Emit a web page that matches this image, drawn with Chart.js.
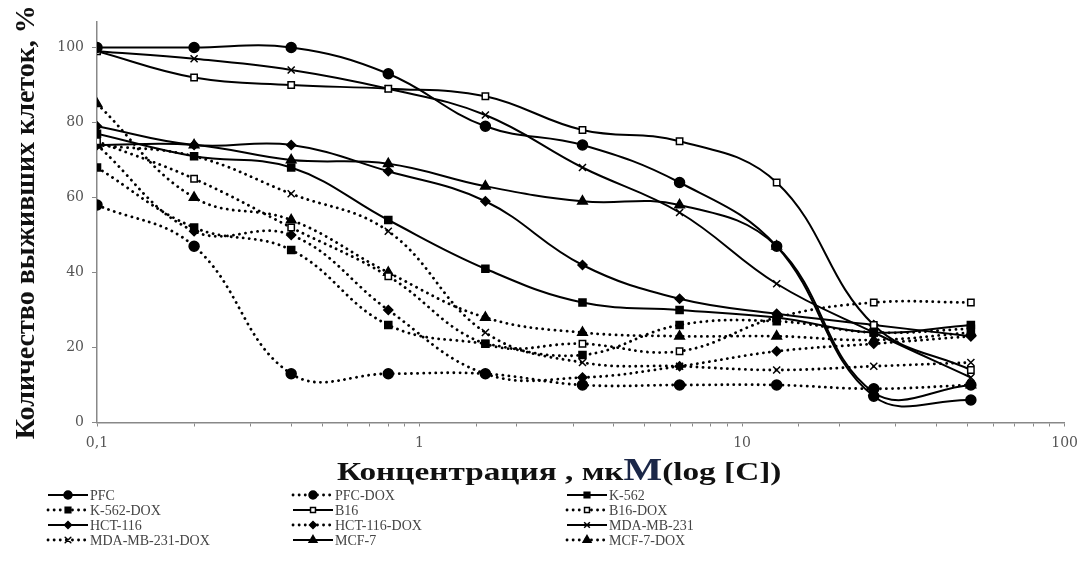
<!DOCTYPE html>
<html lang="ru">
<head>
<meta charset="UTF-8">
<title>Количество выживших клеток</title>
<script src="https://cdn.jsdelivr.net/npm/chart.js"></script>
<style>
  html, body { margin: 0; padding: 0; background: #fff; }
  #wrap { width: 1086px; height: 564px; position: relative; }
</style>
</head>
<body>
<div id="wrap"><canvas id="chart"></canvas></div>
<script>
// концентрации, мкМ (ось x, логарифм)
var concentrations = [0.1, 0.2, 0.4, 0.8, 1.6, 3.2, 6.4, 12.8, 25.6, 51.2];

var seriesNames = ['PFC', 'PFC-DOX', 'K-562', 'K-562-DOX', 'B16', 'B16-DOX',
                   'HCT-116', 'HCT-116-DOX', 'MDA-MB-231', 'MDA-MB-231-DOX', 'MCF-7', 'MCF-7-DOX'];

// % выживших клеток
var pfc       = [100, 100, 100, 93, 79, 74, 64, 47, 7, 6];
var pfcDox    = [58, 47, 13, 13, 13, 10, 10, 10, 9, 10];
var k562      = [77, 71, 68, 54, 41, 32, 30, 28, 24, 26];
var k562Dox   = [68, 52, 46, 26, 21, 18, 26, 27, 24, 25];
var b16       = [99, 92, 90, 89, 87, 78, 75, 64, 26, 14];
var b16Dox    = [75, 65, 52, 39, 21, 21, 19, 28, 32, 32];
var hct116    = [79, 74, 74, 67, 59, 42, 33, 29, 26, 23];
var hct116Dox = [74, 51, 50, 30, 13, 12, 15, 19, 21, 23];
var mda       = [99, 97, 94, 89, 82, 68, 56, 37, 24, 12];
var mdaDox    = [74, 71, 61, 51, 24, 16, 15, 14, 15, 16];
var mcf7      = [74, 74, 70, 69, 63, 59, 58, 47, 8, 10];
var mcf7Dox   = [85, 60, 54, 40, 28, 24, 23, 23, 22, 24];

var yTicks = [0, 20, 40, 60, 80, 100];
var xTickLabels = ['0,1', '1', '10', '100'];

var allValues = [pfc, pfcDox, k562, k562Dox, b16, b16Dox, hct116, hct116Dox, mda, mdaDox, mcf7, mcf7Dox];

// маркеры: стиль, радиус, заливка
var markers = [
    ['circle', 5, '#000'],
    ['circle', 5, '#000'],
    ['rect', 5, '#000'],
    ['rect', 5, '#000'],
    ['rect', 4.5, '#fff'],
    ['rect', 4.5, '#fff'],
    ['rectRot', 4.5, '#000'],
    ['rectRot', 4.5, '#000'],
    ['crossRot', 5, '#000'],
    ['crossRot', 5, '#000'],
    ['triangle', 5.5, '#000'],
    ['triangle', 5.5, '#000']
];

var datasets = seriesNames.map(function (name, i) {
    var dotted = name.indexOf('DOX') >= 0;
    return {
        label: name,
        data: concentrations.map(function (c, j) { return { x: c, y: allValues[i][j] }; }),
        borderColor: '#000',
        borderWidth: dotted ? 2.8 : 2,
        borderDash: dotted ? [0.1, 6] : [],
        borderCapStyle: dotted ? 'round' : 'butt',
        tension: 0.4,
        pointStyle: markers[i][0],
        pointRadius: markers[i][1],
        pointBackgroundColor: markers[i][2],
        pointBorderColor: '#000',
        pointBorderWidth: 1.5,
        fill: false
    };
});

// подпись оси x (растянутая, с крупной M)
var xTitlePlugin = {
    id: 'xTitle',
    afterDraw: function (chart) {
        var ctx = chart.ctx;
        var parts = [
            ['Концентрация , мк', 26, '#111'],
            ['M', 32, '#1b2748'],
            ['(log [C])', 26, '#111']
        ];
        ctx.save();
        ctx.translate(337, 480);
        ctx.scale(1.28, 1);
        ctx.textBaseline = 'alphabetic';
        var x = 0;
        parts.forEach(function (p) {
            ctx.font = 'bold ' + p[1] + 'px "Liberation Serif"';
            ctx.fillStyle = p[2];
            ctx.fillText(p[0], x, 0);
            x += ctx.measureText(p[0]).width;
        });
        ctx.restore();
    }
};

// легенда в 3 колонки
var legendPlugin = {
    id: 'gridLegend',
    afterDraw: function (chart) {
        var ctx = chart.ctx;
        var colX = [48, 293, 567];
        var rowY = [495, 510, 525, 540];
        ctx.save();
        chart.data.datasets.forEach(function (ds, i) {
            var x = colX[i % 3];
            var y = rowY[Math.floor(i / 3)];
            ctx.strokeStyle = '#000';
            ctx.lineWidth = ds.borderWidth;
            ctx.lineCap = ds.borderCapStyle;
            ctx.setLineDash(ds.borderDash);
            ctx.beginPath();
            ctx.moveTo(x, y);
            ctx.lineTo(x + 40, y);
            ctx.stroke();
            ctx.setLineDash([]);
            ctx.fillStyle = ds.pointBackgroundColor;
            ctx.lineWidth = 1.5;
            Chart.helpers.drawPoint(ctx, { pointStyle: ds.pointStyle, radius: ds.pointRadius - 1, rotation: 0, borderWidth: 1.5 }, x + 20, y);
            ctx.fillStyle = '#444';
            ctx.font = '14px "Liberation Serif"';
            ctx.textBaseline = 'middle';
            ctx.fillText(ds.label, x + 42, y + 1);
        });
        ctx.restore();
    }
};

new Chart(document.getElementById('chart'), {
    type: 'line',
    data: { datasets: datasets },
    options: {
        responsive: true,
        maintainAspectRatio: false,
        animation: false,
        layout: { padding: { left: 0, top: 22, right: 18, bottom: 79 } },
        plugins: {
            legend: { display: false },
            tooltip: { enabled: false }
        },
        scales: {
            x: {
                type: 'logarithmic',
                min: 0.1,
                max: 100,
                afterFit: function (scale) { scale.height = 62.5; },
                border: { display: true, color: '#888', width: 1.5 },
                grid: { display: true, drawOnChartArea: false, drawTicks: true, tickLength: 4, color: '#888' },
                ticks: {
                    autoSkip: false,
                    maxRotation: 0,
                    padding: 8,
                    color: '#555',
                    font: { family: 'DejaVu Serif', size: 14 },
                    callback: function (value) {
                        var p = Math.log10(value);
                        if (Math.abs(p - Math.round(p)) > 1e-6) return '';
                        return xTickLabels[Math.round(p) + 1];
                    }
                }
            },
            y: {
                min: 0,
                max: 106.8,
                afterFit: function (scale) { scale.width = 97; },
                afterBuildTicks: function (scale) {
                    scale.ticks = yTicks.map(function (v) { return { value: v }; });
                },
                border: { display: true, color: '#888', width: 1.5 },
                grid: { display: true, drawOnChartArea: false, drawTicks: true, tickLength: 5, color: '#888' },
                ticks: {
                    padding: 8,
                    color: '#555',
                    font: { family: 'DejaVu Serif', size: 14 }
                },
                title: {
                    display: true,
                    text: 'Количество выживших клеток, %',
                    color: '#111',
                    font: { family: 'Liberation Serif', size: 28, weight: 'bold' },
                    padding: { top: 10, bottom: 0 }
                }
            }
        }
    },
    plugins: [xTitlePlugin, legendPlugin]
});
</script>
</body>
</html>
